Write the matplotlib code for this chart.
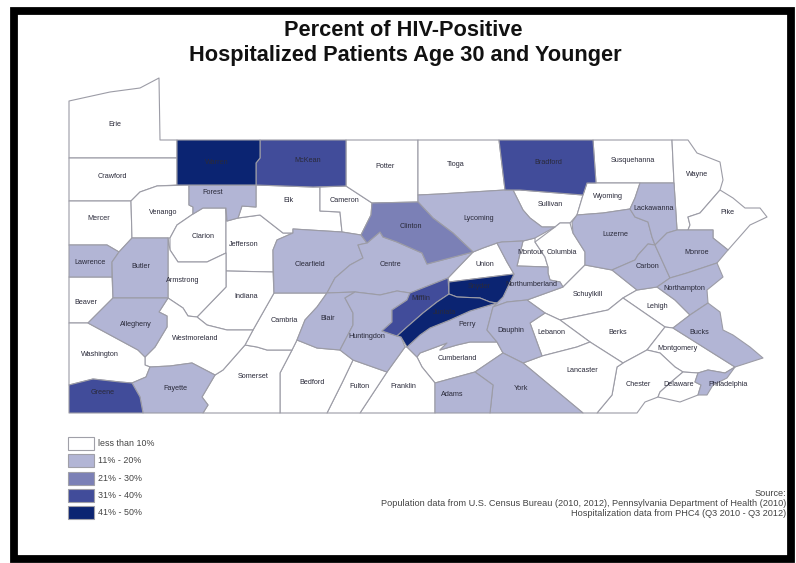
#!/usr/bin/env python3
"""Percent of HIV-positive hospitalized patients age 30 and younger, Pennsylvania counties."""

import matplotlib
matplotlib.use("Agg")
import matplotlib.pyplot as plt
from matplotlib.patches import Polygon, Rectangle

plt.rcParams["font.family"] = ["Liberation Sans", "DejaVu Sans"]

CLASS_LABELS = ["less than 10%", "11% - 20%", "21% - 30%", "31% - 40%", "41% - 50%"]
CLASS_COLORS = ["#FFFFFF", "#B2B5D5", "#7B80B6", "#414C9A", "#0B2472"]

# rate class of each county, 0 = lowest
CLASS_0 = ["Erie", "Crawford", "Mercer", "Venango", "Clarion", "Jefferson", "Elk", "Cameron",
           "Potter", "Tioga", "Sullivan", "Susquehanna", "Wyoming", "Wayne", "Pike", "Union",
           "Montour", "Columbia", "Schuylkill", "Lehigh", "Berks", "Lebanon", "Montgomery",
           "Chester", "Delaware", "Lancaster", "Cumberland", "Franklin", "Fulton", "Bedford",
           "Somerset", "Cambria", "Indiana", "Armstrong", "Westmoreland", "Beaver", "Washington"]
CLASS_1 = ["Forest", "Lawrence", "Butler", "Allegheny", "Fayette", "Clearfield", "Centre",
           "Blair", "Huntingdon", "Lycoming", "Northumberland", "Perry", "Dauphin", "York",
           "Adams", "Luzerne", "Lackawanna", "Carbon", "Monroe", "Northampton", "Bucks",
           "Philadelphia"]
CLASS_2 = ["Clinton"]
CLASS_3 = ["McKean", "Bradford", "Greene", "Mifflin"]
CLASS_4 = ["Warren", "Snyder", "Juniata"]

# county outlines
OUTLINES = {
    "Erie": [(69,101),(110,92),(140,88),(159,78),(160,140),(177,140),(177,158),(69,158)],
    "Crawford": [(69,158),(177,158),(177,185),(157,186),(140,192),(131,201),(69,201)],
    "Warren": [(177,140),(260,140),(260,158),(256,163),(256,185),(177,185)],
    "McKean": [(260,140),(346,140),(346,186),(313,187),(256,185),(256,163),(260,158)],
    "Forest": [(189,185),(256,185),(256,207),(242,206),(238,218),(227,221),(226,208),(203,208),
               (193,214),(193,207),(189,205)],
    "Venango": [(131,201),(140,192),(157,186),(189,185),(189,205),(193,207),(193,214),(177,225),
                (170,238),(132,238)],
    "Mercer": [(69,201),(131,201),(132,238),(119,252),(107,245),(69,245)],
    "Lawrence": [(69,245),(107,245),(119,252),(112,262),(112,277),(69,277)],
    "Butler": [(132,238),(168,238),(168,298),(113,298),(112,262),(119,252)],
    "Beaver": [(69,277),(112,277),(113,298),(88,323),(69,323)],
    "Allegheny": [(113,298),(168,298),(159,312),(167,316),(167,327),(155,347),(145,357),(138,350),
                  (88,323)],
    "Washington": [(69,323),(88,323),(138,350),(145,357),(145,365),(150,367),(146,377),(132,383),
                   (120,382),(93,379),(69,385)],
    "Greene": [(69,385),(93,379),(120,382),(132,383),(140,397),(143,413),(69,413)],
    "Fayette": [(132,383),(146,377),(150,367),(170,366),(192,363),(215,375),(202,397),(208,405),
                (203,413),(143,413),(140,397)],
    "Westmoreland": [(168,298),(183,308),(188,316),(197,317),(207,325),(227,330),(253,330),(245,345),
                     (223,370),(215,375),(192,363),(170,366),(150,367),(145,365),(145,357),(155,347),
                     (167,327),(167,316),(159,312)],
    "Armstrong": [(168,238),(170,250),(178,262),(207,262),(226,253),(226,287),(197,317),(188,316),
                  (183,308),(168,298)],
    "Clarion": [(170,238),(177,225),(193,214),(203,208),(226,208),(226,253),(207,262),(178,262),
                (170,250)],
    "Jefferson": [(226,208),(227,221),(238,218),(260,215),(283,233),(293,233),(277,240),(273,250),
                  (273,272),(226,271)],
    "Indiana": [(226,271),(273,272),(274,293),(253,330),(227,330),(207,325),(197,317),(226,287)],
    "Clearfield": [(274,293),(273,250),(277,240),(293,233),(293,229),(342,232),(361,235),(367,243),
                   (358,245),(363,258),(350,265),(335,278),(327,293)],
    "Elk": [(256,185),(313,187),(320,187),(320,211),(340,212),(342,232),(293,229),(293,233),(283,233),
            (260,215),(238,218),(242,206),(256,207)],
    "Cameron": [(320,187),(346,186),(372,203),(371,215),(361,235),(342,232),(340,212),(320,211)],
    "Potter": [(346,140),(418,140),(418,202),(372,203),(346,186)],
    "Tioga": [(418,140),(499,140),(505,190),(440,194),(418,195)],
    "Clinton": [(372,203),(418,202),(433,218),(453,233),(473,252),(427,264),(422,253),(397,242),
                (383,237),(380,232),(367,243),(361,235),(371,215)],
    "Lycoming": [(418,195),(440,194),(505,190),(513,190),(523,210),(530,218),(542,227),(555,227),
                 (535,238),(523,241),(502,242),(497,243),(483,248),(473,252),(453,233),(433,218),
                 (418,202)],
    "Sullivan": [(505,190),(520,190),(583,195),(577,215),(570,223),(560,223),(555,227),(542,227),
                 (530,218),(523,210),(513,190)],
    "Bradford": [(499,140),(593,140),(596,183),(587,183),(583,195),(520,190),(505,190)],
    "Susquehanna": [(593,140),(672,140),(674,183),(596,183)],
    "Wayne": [(672,140),(688,140),(697,153),(720,162),(723,180),(720,190),(700,213),(688,217),
              (690,225),(688,230),(677,230),(674,183)],
    "Pike": [(720,190),(733,198),(745,208),(760,208),(767,217),(750,225),(743,233),(728,250),(713,238),
             (713,230),(688,230),(690,225),(688,217),(700,213)],
    "Wyoming": [(587,183),(640,183),(635,198),(630,209),(603,213),(577,215),(583,195)],
    "Lackawanna": [(640,183),(674,183),(677,230),(667,233),(655,245),(652,237),(648,222),(635,217),
                   (630,209),(635,198)],
    "Luzerne": [(572,222),(577,215),(603,213),(630,209),(635,217),(648,222),(652,237),(655,245),
                (648,244),(638,255),(635,260),(612,270),(585,265),(585,252),(573,233)],
    "Monroe": [(655,245),(667,233),(677,230),(713,230),(713,238),(728,250),(717,263),(687,273),(670,278)],
    "Carbon": [(612,270),(635,260),(638,255),(648,244),(655,245),(670,278),(657,287),(637,290)],
    "Northampton": [(657,287),(670,278),(687,273),(717,263),(723,277),(707,290),(708,303),(690,315),
                    (675,300)],
    "Columbia": [(555,227),(560,223),(570,223),(572,230),(573,233),(585,252),(585,265),(578,272),
                 (563,287),(560,282),(550,280),(548,273),(548,267),(545,257),(535,242)],
    "Montour": [(523,241),(535,238),(535,242),(545,257),(548,267),(517,266)],
    "Northumberland": [(497,243),(502,242),(523,241),(517,266),(548,267),(548,273),(550,280),(560,282),
                       (563,287),(527,300),(507,302),(493,307),(497,303),(503,297),(514,274),(507,262)],
    "Union": [(473,252),(483,248),(497,243),(507,262),(514,274),(449,282),(448,278)],
    "Snyder": [(449,282),(514,274),(503,297),(497,303),(490,302),(480,298),(457,297),(449,294)],
    "Mifflin": [(448,278),(449,294),(437,302),(423,313),(407,327),(397,336),(382,331),(392,322),
                (392,310),(407,300),(410,293)],
    "Juniata": [(449,294),(457,297),(480,298),(490,302),(497,303),(470,311),(450,320),(430,328),
                (420,335),(407,347),(401,337),(397,336),(407,327),(423,313),(437,302)],
    "Perry": [(470,311),(497,303),(493,307),(487,330),(497,342),(470,342),(457,345),(440,350),(447,343),
              (420,353),(417,357),(407,347),(420,335),(430,328),(450,320)],
    "Dauphin": [(493,307),(507,302),(527,300),(545,313),(530,323),(542,356),(523,363),(503,353),
                (497,342),(487,330)],
    "Schuylkill": [(527,300),(563,287),(578,272),(585,265),(612,270),(637,290),(623,298),(608,310),
                   (560,320),(545,313)],
    "Lebanon": [(545,313),(560,320),(590,342),(577,347),(542,356),(530,323)],
    "Berks": [(560,320),(608,310),(623,298),(665,327),(647,350),(623,363),(590,342)],
    "Lehigh": [(623,298),(637,290),(657,287),(675,300),(690,315),(673,328),(665,327)],
    "Bucks": [(690,315),(708,303),(720,312),(723,330),(733,335),(750,347),(763,358),(735,367),(673,328)],
    "Montgomery": [(665,327),(673,328),(735,367),(725,373),(708,370),(698,373),(683,372),(675,367),
                   (660,353),(647,350)],
    "Philadelphia": [(735,367),(727,378),(713,385),(707,395),(698,395),(701,385),(695,382),(698,373),
                     (708,370),(725,373)],
    "Delaware": [(683,372),(698,373),(695,382),(701,385),(698,395),(680,402),(658,397),(660,392),(670,383)],
    "Chester": [(623,363),(647,350),(660,353),(675,367),(683,372),(670,383),(660,392),(658,397),
                (645,402),(637,413),(597,413),(612,395),(617,367)],
    "Lancaster": [(542,356),(577,347),(590,342),(623,363),(617,367),(612,395),(597,413),(583,413),
                  (523,363)],
    "York": [(503,353),(523,363),(583,413),(490,413),(493,385),(475,372)],
    "Adams": [(475,372),(493,385),(490,413),(435,413),(435,383)],
    "Cumberland": [(417,357),(420,353),(447,343),(440,350),(457,345),(470,342),(497,342),(503,353),
                   (475,372),(435,383),(422,367)],
    "Franklin": [(405,347),(407,347),(417,357),(422,367),(435,383),(435,413),(360,413),(387,372)],
    "Fulton": [(353,360),(387,372),(360,413),(327,413),(342,383)],
    "Bedford": [(297,340),(317,348),(340,350),(353,360),(342,383),(327,413),(280,413),(280,373),(292,350)],
    "Somerset": [(245,345),(257,347),(267,350),(292,350),(280,373),(280,413),(203,413),(208,405),
                 (202,397),(215,375),(223,370)],
    "Cambria": [(274,293),(327,293),(317,307),(305,320),(297,340),(292,350),(267,350),(257,347),
                (245,345),(253,330)],
    "Blair": [(327,293),(355,292),(345,298),(353,313),(353,325),(340,350),(317,348),(297,340),(305,320),
              (317,307)],
    "Huntingdon": [(355,292),(380,295),(397,291),(410,293),(407,300),(392,310),(392,322),(382,331),
                   (397,336),(401,337),(405,347),(387,372),(353,360),(340,350),(353,325),(353,313),
                   (345,298)],
    "Centre": [(367,243),(380,232),(383,237),(397,242),(422,253),(427,264),(473,252),(448,278),(410,293),
               (397,291),(380,295),(355,292),(327,293),(335,278),(350,265),(363,258),(358,245)],
}

NAME_SPOTS = {
    "Erie": (115,125), "Crawford": (112,177), "Mercer": (99,219), "Venango": (163,212),
    "Clarion": (203,236), "Jefferson": (244,244), "Lawrence": (90,262), "Butler": (141,267),
    "Armstrong": (183,281), "Indiana": (246,296), "Beaver": (86,303), "Allegheny": (136,324),
    "Cambria": (284,320), "Westmoreland": (195,339), "Washington": (100,354), "Greene": (103,392),
    "Fayette": (175,389), "Somerset": (253,377), "Bedford": (312,383), "Fulton": (359,386),
    "Franklin": (403,387), "Adams": (452,394), "York": (521,388), "Cumberland": (457,358),
    "Huntingdon": (367,337), "Blair": (328,319), "Perry": (467,325), "Mifflin": (421,298),
    "Juniata": (445,312), "Snyder": (479,287), "Centre": (391,264), "Clearfield": (310,264),
    "Clinton": (411,226), "Cameron": (345,201), "Elk": (288,201), "Forest": (213,192),
    "Warren": (217,162), "McKean": (308,161), "Potter": (385,167), "Tioga": (456,165),
    "Lycoming": (479,218), "Union": (485,264), "Montour": (531,252), "Columbia": (562,253),
    "Northumberland": (531,284), "Sullivan": (550,205), "Bradford": (548,163), "Wyoming": (608,197),
    "Susquehanna": (633,161), "Wayne": (697,175), "Pike": (727,213), "Lackawanna": (654,209),
    "Luzerne": (615,234), "Carbon": (648,267), "Monroe": (697,252), "Northampton": (684,289),
    "Lehigh": (657,306), "Schuylkill": (588,295), "Lebanon": (551,332), "Berks": (618,333),
    "Bucks": (699,333), "Montgomery": (678,349), "Lancaster": (582,371), "Chester": (638,384),
    "Delaware": (679,385), "Philadelphia": (728,384), "Dauphin": (511,330),
}

TITLE_LINES = ["Percent of HIV-Positive", "Hospitalized Patients Age 30 and Younger"]
SOURCE_LINES = ["Source:",
                "Population data from U.S. Census Bureau (2010, 2012), Pennsylvania Department of Health (2010)",
                "Hospitalization data from PHC4 (Q3 2010 - Q3 2012)"]


def main():
    fig = plt.figure(figsize=(7.96, 5.63), dpi=100, facecolor="white")
    ax = fig.add_axes([0, 0, 1, 1])
    ax.set_xlim(0, 796)
    ax.set_ylim(563, 0)
    ax.axis("off")

    # black frame
    ax.add_patch(Rectangle((13.5, 11), 777, 548, fill=False, edgecolor="black", linewidth=5.6,
                           joinstyle="miter"))

    # counties, one class at a time
    classes = [CLASS_0, CLASS_1, CLASS_2, CLASS_3, CLASS_4]
    for i, names in enumerate(classes):
        for name in names:
            ax.add_patch(Polygon(OUTLINES[name], closed=True, facecolor=CLASS_COLORS[i],
                                 edgecolor="#9C9CA6", linewidth=0.8, joinstyle="round"))
    for name, (x, y) in NAME_SPOTS.items():
        ax.text(x, y, name, fontsize=5.2, color="#2A2A3A", ha="center", va="center")

    ax.text(403, 30, TITLE_LINES[0], fontsize=15.7, fontweight="bold", ha="center", va="center",
            color="#111111")
    ax.text(405, 56, TITLE_LINES[1], fontsize=15.7, fontweight="bold", ha="center", va="center",
            color="#111111")

    # legend
    for i, label in enumerate(CLASS_LABELS):
        top = 437 + i * 17.3
        ax.add_patch(Rectangle((68, top), 26, 13, facecolor=CLASS_COLORS[i], edgecolor="#A0A0A8",
                               linewidth=0.8))
        ax.text(98, top + 6.5, label, fontsize=6.4, color="#444444", va="center")

    for y, line in zip([493, 503, 513], SOURCE_LINES):
        ax.text(786, y, line, fontsize=6.55, color="#444444", ha="right", va="center")

    fig.savefig("out.png", dpi=100, facecolor="white")


if __name__ == "__main__":
    main()
